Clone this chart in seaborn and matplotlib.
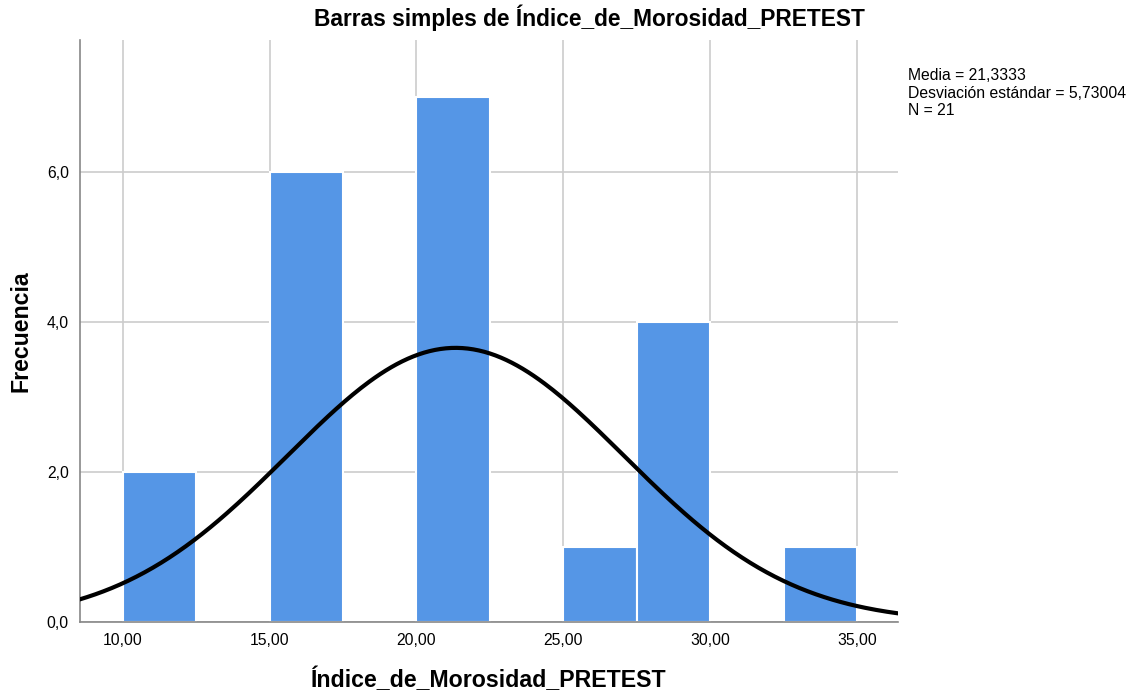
import numpy as np
import pandas as pd
import matplotlib
matplotlib.use("Agg")
import matplotlib.pyplot as plt
import seaborn as sns
from matplotlib.ticker import FuncFormatter

# frequency per 2.5-wide bin
bin_edges = [10, 12.5, 15, 17.5, 20, 22.5, 25, 27.5, 30, 32.5, 35]
bin_counts = [2, 0, 6, 0, 7, 0, 1, 4, 0, 1]
media = 21.3333
desv = 5.73004
n = 21

df = pd.DataFrame({'valor': [e + 1.25 for e in bin_edges[:-1]], 'freq': bin_counts})

sns.set_style("white")
plt.rcParams['font.family'] = ['Liberation Sans', 'DejaVu Sans']
plt.rcParams['text.color'] = 'black'
plt.rcParams['axes.labelcolor'] = 'black'
plt.rcParams['xtick.color'] = 'black'
plt.rcParams['ytick.color'] = 'black'

fig = plt.figure(figsize=(11.34, 6.97), dpi=100)
ax = fig.add_axes([0.0705, 0.1076, 0.7215, 0.835])

sns.histplot(data=df, x='valor', weights='freq', bins=bin_edges, ax=ax,
             color='#5596e6', alpha=1, edgecolor='white', linewidth=1.5)
# empty bins should not paint white lines over the grid
for p in list(ax.patches):
    if p.get_height() == 0:
        p.remove()

# normal curve scaled to counts
xs = np.linspace(8.5, 36.4, 300)
ys = n * 2.5 / (desv * np.sqrt(2 * np.pi)) * np.exp(-0.5 * ((xs - media) / desv) ** 2)
ax.plot(xs, ys, color='black', lw=3, zorder=5)

ax.set_xlim(8.54, 36.4)
ax.set_ylim(0, 7.76)
ax.set_xticks([10, 15, 20, 25, 30, 35])
ax.set_yticks([0, 2, 4, 6])
ax.xaxis.set_major_formatter(FuncFormatter(lambda v, p: f"{v:.2f}".replace('.', ',')))
ax.yaxis.set_major_formatter(FuncFormatter(lambda v, p: f"{v:.1f}".replace('.', ',')))
ax.tick_params(length=0, labelsize=11.3, pad=8)
ax.grid(True, color='#cccccc', lw=1.2)
ax.set_axisbelow(True)
for s in ['top', 'right']:
    ax.spines[s].set_visible(False)
for s in ['left', 'bottom']:
    ax.spines[s].set_color('#888888')
    ax.spines[s].set_linewidth(1.2)

ax.set_xlabel('Índice_de_Morosidad_PRETEST', fontsize=16.7, fontweight='bold', labelpad=14)
ax.set_ylabel('Frecuencia', fontsize=16.7, fontweight='bold', labelpad=10)

fig.text(0.52, 0.974, 'Barras simples de Índice_de_Morosidad_PRETEST',
         ha='center', va='center', fontsize=16.4, fontweight='bold')
fig.text(0.801, 0.902, f"Media = 21,3333\nDesviación estándar = 5,73004\nN = {n}",
         ha='left', va='top', fontsize=11.3, linespacing=1.2)

fig.savefig('out.png', dpi=100)
